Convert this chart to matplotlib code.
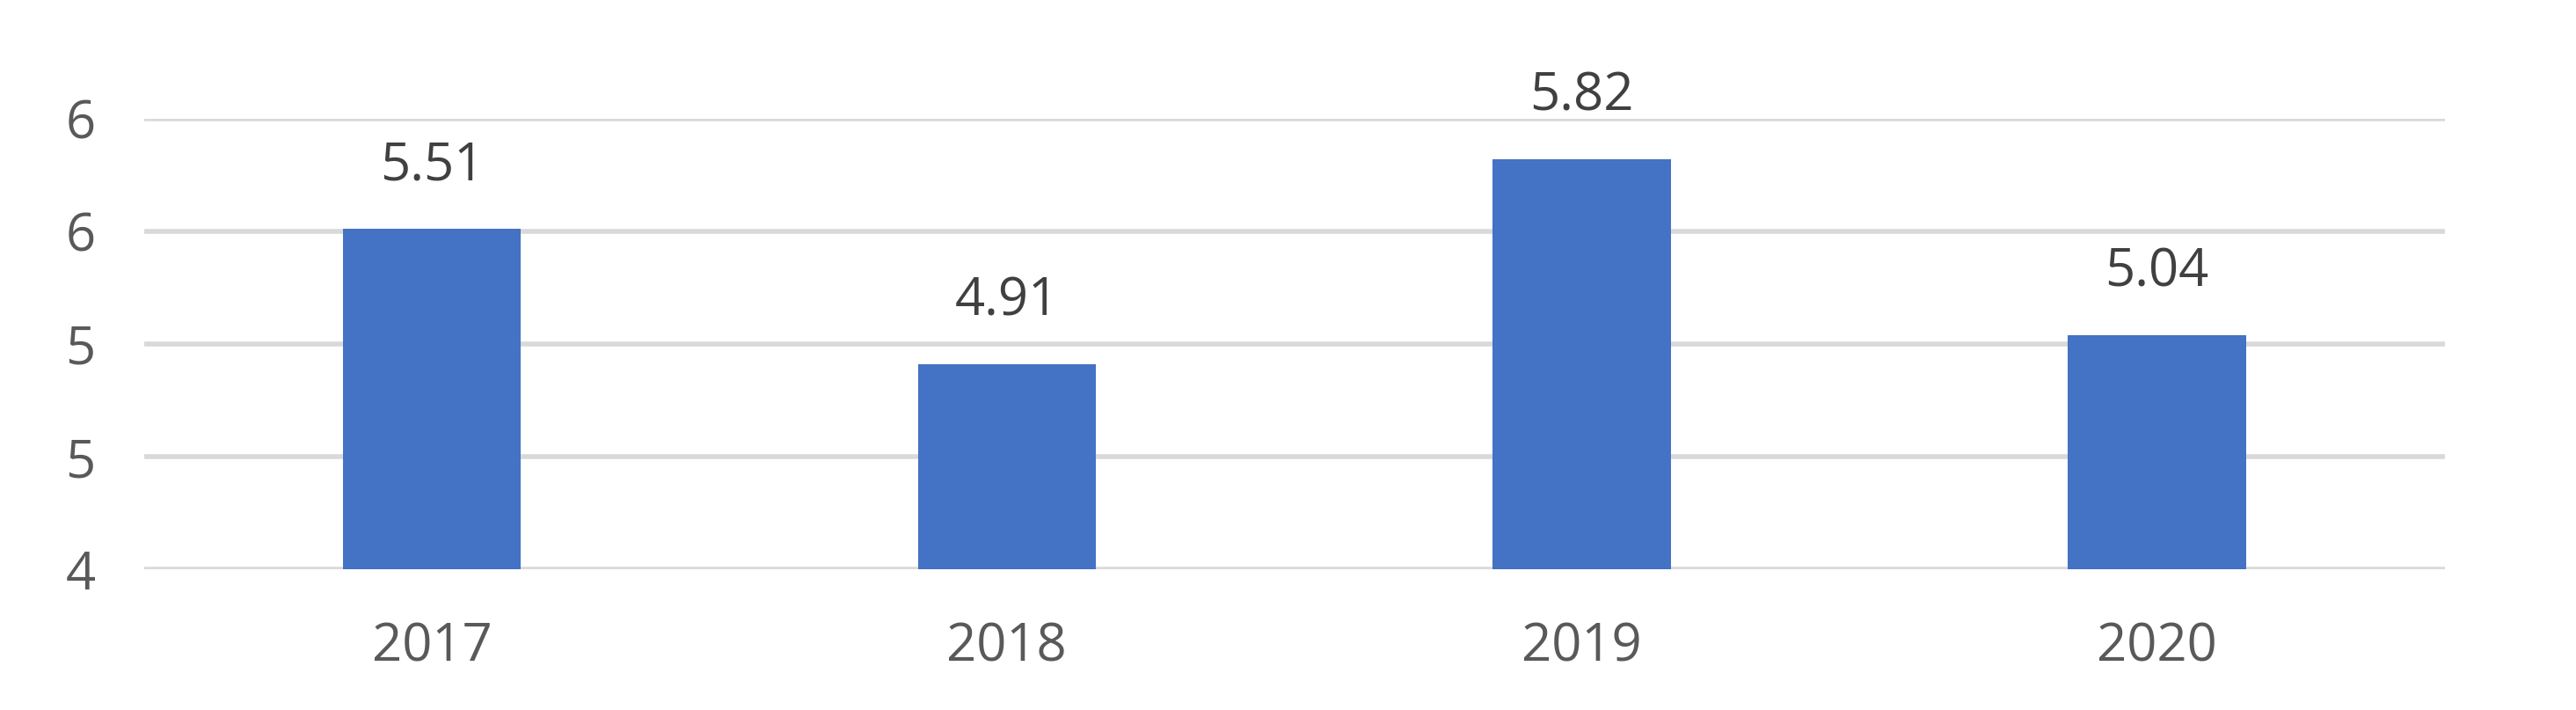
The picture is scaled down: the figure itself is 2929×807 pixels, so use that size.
import matplotlib.pyplot as plt

years = ['2017', '2018', '2019', '2020']
values = [5.51, 4.91, 5.82, 5.04]
yticks = [4, 4.5, 5, 5.5, 6]
ytick_labels = ['4', '5', '5', '6', '6']

plt.rcParams['font.family'] = ['Open Sans', 'DejaVu Sans']

fig = plt.figure(figsize=(29.29, 8.07), dpi=100)
ax = fig.add_axes([0.056, 0.198, 0.893, 0.635])

x = range(len(years))
ax.bar(x, [v - 4 for v in values], bottom=4, width=0.31, color='#4472C4', zorder=3)
for i, v in zip(x, values):
    ax.annotate(f'{v:.2f}', (i, v), xytext=(0, 30), textcoords='offset points',
                ha='center', va='bottom', fontsize=43, color='#404040')

ax.set_ylim(4, 6)
ax.set_xlim(-0.5, 3.5)
ax.set_yticks(yticks)
ax.set_yticklabels(ytick_labels)
ax.set_xticks(list(x))
ax.set_xticklabels(years)
ax.tick_params(length=0, labelsize=43, labelcolor='#595959')
ax.tick_params(axis='x', pad=42)
ax.tick_params(axis='y', pad=40)
ax.grid(axis='y', color='#D9D9D9', linewidth=4, zorder=0)
for s in ax.spines.values():
    s.set_visible(False)

fig.savefig('out.png', dpi=100)
